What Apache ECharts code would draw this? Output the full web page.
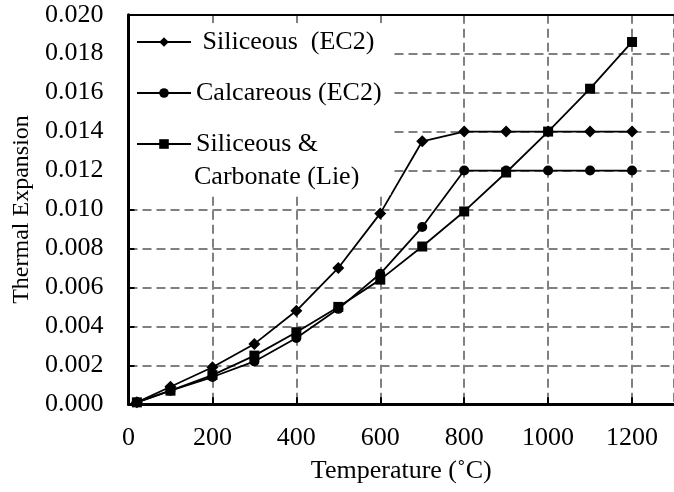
<!DOCTYPE html>
<html>
<head>
<meta charset="utf-8">
<script src="https://cdn.jsdelivr.net/npm/echarts@6/dist/echarts.min.js"></script>
<style>html,body{margin:0;padding:0;background:#fff}#c{width:674px;height:492px}</style>
</head>
<body>
<div id="c"></div>
<script>
const temperatures = [20, 100, 200, 300, 400, 500, 600, 700, 800, 900, 1000, 1100, 1200];
const siliceousEC2 = [0.0001, 0.0009, 0.0019, 0.0031, 0.0048, 0.0070, 0.0098, 0.0135, 0.0140, 0.0140, 0.0140, 0.0140, 0.0140];
const calcareousEC2 = [0.0001, 0.0007, 0.0014, 0.0022, 0.0034, 0.0049, 0.0067, 0.0091, 0.0120, 0.0120, 0.0120, 0.0120, 0.0120];
const siliceousCarbonateLie = [0.0001, 0.0007, 0.0015, 0.0025, 0.0037, 0.0050, 0.0064, 0.0081, 0.0099, 0.0119, 0.0140, 0.0162, 0.0186];
const seriesNames = ['Siliceous (EC2)', 'Calcareous (EC2)', 'Siliceous & Carbonate (Lie)'];
const legendLabels = [' Siliceous  (EC2)', 'Calcareous (EC2)', 'Siliceous &'];
const legendSecondLine = 'Carbonate (Lie)';
const xTicks = [0, 200, 400, 600, 800, 1000, 1200];
const yAxisTitle = 'Thermal Expansion';
const xAxisTitle = 'Temperature (˚C)';

const FONT = "'Liberation Serif', 'Times New Roman', serif";
const pairs = vals => temperatures.map((t, i) => [t, vals[i]]);

const chart = echarts.init(document.getElementById('c'), null, {renderer: 'canvas'});
const symbols = ['diamond', 'circle', 'rect'];
const sizes = [12, 10, 10];
const dataSets = [siliceousEC2, calcareousEC2, siliceousCarbonateLie];

chart.setOption({
  animation: false,
  backgroundColor: '#fff',
  grid: {left: 128.5, top: 14.7, bottom: 87.7, right: -11},
  xAxis: [{
    type: 'value', min: 0, max: 1300, interval: 200,
    axisLine: {lineStyle: {color: '#000', width: 3}},
    axisTick: {inside: true, length: 7, lineStyle: {color: '#000', width: 2}},
    axisLabel: {
      color: '#000', fontFamily: FONT, fontSize: 26, margin: 21, showMaxLabel: false,
      formatter: v => xTicks.indexOf(v) >= 0 ? String(v) : ''
    },
    splitLine: {show: true, lineStyle: {color: '#808080', type: [9, 5], width: 2}},
    name: xAxisTitle, nameLocation: 'middle', nameGap: 54,
    nameTextStyle: {color: '#000', fontFamily: FONT, fontSize: 26}
  }, {
    type: 'value', position: 'top', min: 0, max: 1300,
    axisLine: {show: true, onZero: false, lineStyle: {color: '#000', width: 2}},
    axisTick: {show: false}, axisLabel: {show: false}, splitLine: {show: false}
  }],
  yAxis: {
    type: 'value', min: 0, max: 0.02, interval: 0.002,
    axisLine: {show: true, lineStyle: {color: '#000', width: 3}},
    axisTick: {show: true, inside: true, length: 6, lineStyle: {color: '#000', width: 2}},
    axisLabel: {color: '#000', fontFamily: FONT, fontSize: 26, margin: 25, formatter: v => v.toFixed(3)},
    splitLine: {show: true, lineStyle: {color: '#808080', type: [9, 5], width: 2}},
    name: yAxisTitle, nameLocation: 'middle', nameGap: 93,
    nameTextStyle: {color: '#000', fontFamily: FONT, fontSize: 24}
  },
  legend: {
    orient: 'vertical', left: 130, top: 23,
    padding: [6, 9, 38, 6],
    backgroundColor: '#fff',
    itemWidth: 54, itemHeight: 12, itemGap: 25,
    textStyle: {color: '#000', fontFamily: FONT, fontSize: 26},
    formatter: name => legendLabels[seriesNames.indexOf(name)],
    data: seriesNames
  },
  graphic: [{
    type: 'text', left: 194, top: 164, z: 100,
    style: {text: legendSecondLine, fill: '#000', font: "26px 'Liberation Serif', 'Times New Roman', serif"}
  }],
  series: seriesNames.map((n, i) => ({
    name: n, type: 'line', data: pairs(dataSets[i]),
    symbol: symbols[i], symbolSize: sizes[i],
    lineStyle: {color: '#000', width: 1.8},
    itemStyle: {color: '#000'}
  }))
});
</script>
</body>
</html>
